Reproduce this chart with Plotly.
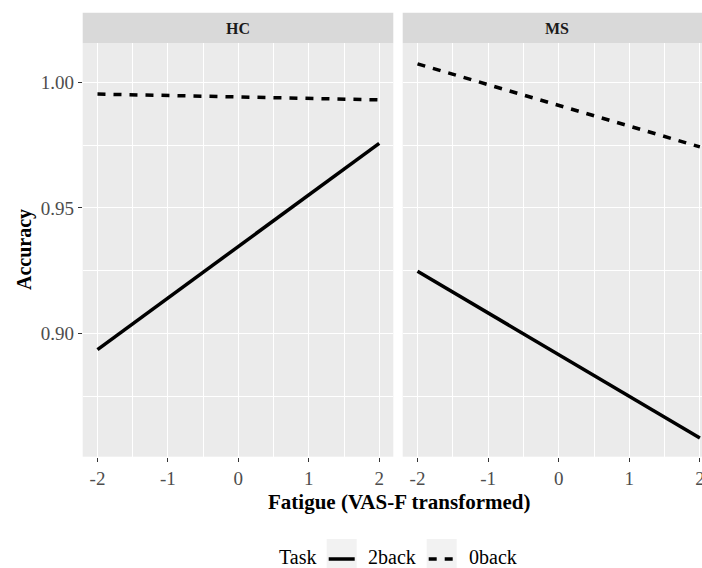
import plotly.graph_objects as go

# ---- data ----
fatigue = [-2, 2]
hc_2back = [0.8936, 0.9757]
hc_0back = [0.9953, 0.9930]
ms_2back = [0.9248, 0.8584]
ms_0back = [1.0073, 0.9743]
panels = ["HC", "MS"]
tasks = ["2back", "0back"]
x_ticks = [-2, -1, 0, 1, 2]
x_tick_labels = ["-2", "-1", "0", "1", "2"]
y_ticks = [0.90, 0.95, 1.00]
y_tick_labels = ["0.90", "0.95", "1.00"]

W, H = 702, 568


def px(x):
    return x / W


def py(y):
    return 1 - y / H


FONT = "Liberation Serif"
LW = 3.5
DASH = "8px,8px"
dash_of = {"2back": "solid", "0back": DASH}

fig = go.Figure()
series = {
    ("HC", "2back"): hc_2back,
    ("HC", "0back"): hc_0back,
    ("MS", "2back"): ms_2back,
    ("MS", "0back"): ms_0back,
}
for (panel, task), vals in series.items():
    ax = "" if panel == "HC" else "2"
    fig.add_trace(go.Scatter(
        x=fatigue, y=vals, mode="lines", name=task,
        line=dict(color="black", width=LW, dash=dash_of[task]),
        xaxis="x" + ax, yaxis="y" + ax, showlegend=False,
    ))

tickfont = dict(family=FONT, size=19, color="#4D4D4D")
common_x = dict(
    tickvals=x_ticks, ticktext=x_tick_labels, ticks="outside", ticklen=4,
    tickcolor="#333333", tickwidth=1, showgrid=True, gridcolor="white",
    gridwidth=1.4, zeroline=False, showline=False, tickfont=tickfont,
    automargin=False, fixedrange=True, ticklabeloverflow="allow",
    minor=dict(tickvals=[-1.5, -0.5, 0.5, 1.5], showgrid=True,
               gridcolor="white", gridwidth=0.6, ticks=""),
)
common_y = dict(
    range=[0.851, 1.0155], showgrid=True, gridcolor="white", gridwidth=1.4,
    zeroline=False, showline=False, automargin=False, fixedrange=True,
    tickvals=y_ticks, ticktext=y_tick_labels,
    minor=dict(tickvals=[0.875, 0.925, 0.975], showgrid=True,
               gridcolor="white", gridwidth=0.6, ticks=""),
)

fig.update_layout(
    template="none",
    width=W, height=H, autosize=False,
    margin=dict(l=0, r=0, t=0, b=0, pad=0),
    paper_bgcolor="white", plot_bgcolor="#EBEBEB",
    font=dict(family=FONT, color="black"),
    showlegend=False,
    xaxis=dict(domain=[px(82.7), px(393.3)], range=[-2.21, 2.2], anchor="y", **common_x),
    xaxis2=dict(domain=[px(402.7), 1.0], range=[-2.21, 2.03], anchor="y2", **common_x),
    yaxis=dict(domain=[py(456.7), py(43.3)], anchor="x", ticks="outside",
               ticklen=4, tickcolor="#333333", tickwidth=1, tickfont=tickfont,
               **common_y),
    yaxis2=dict(domain=[py(456.7), py(43.3)], anchor="x2", matches="y",
                showticklabels=False, ticks="", **common_y),
)

shapes = []
annotations = []
# facet strips
strip_spans = {"HC": (82.7, 393.3), "MS": (402.7, 711.7)}
for p in panels:
    a, b = strip_spans[p]
    shapes.append(dict(type="rect", xref="paper", yref="paper",
                       x0=px(a), x1=min(px(b), 1.02), y0=py(43.3), y1=py(12.7),
                       fillcolor="#D9D9D9", line=dict(width=0), layer="below"))
    annotations.append(dict(text="<b>%s</b>" % p, xref="paper", yref="paper",
                            x=px((a + b) / 2), y=py(29), showarrow=False,
                            xanchor="center", yanchor="middle",
                            font=dict(family=FONT, size=16, color="#1A1A1A")))

# axis titles
annotations.append(dict(text="<b>Accuracy</b>", xref="paper", yref="paper",
                        x=px(25), y=py(250), textangle=-90, showarrow=False,
                        xanchor="center", yanchor="middle",
                        font=dict(family=FONT, size=20, color="black")))
annotations.append(dict(text="<b>Fatigue (VAS-F transformed)</b>", xref="paper",
                        yref="paper", x=px(398.5), y=py(502), showarrow=False,
                        xanchor="center", yanchor="middle",
                        font=dict(family=FONT, size=21, color="black")))

# legend (drawn manually to mimic ggplot keys)
LEG_Y = 557
annotations.append(dict(text="Task", xref="paper", yref="paper", x=px(297),
                        y=py(LEG_Y), showarrow=False, xanchor="center",
                        yanchor="middle", font=dict(family=FONT, size=20, color="black")))
key_x = {"2back": 326.7, "0back": 426.7}
label_x = {"2back": 391.7, "0back": 492.5}
for t in tasks:
    k = key_x[t]
    shapes.append(dict(type="rect", xref="paper", yref="paper",
                       x0=px(k), x1=px(k + 30), y0=py(539), y1=py(575),
                       fillcolor="#F2F2F2", line=dict(width=0)))
    shapes.append(dict(type="line", xref="paper", yref="paper",
                       x0=px(k + 2), x1=px(k + 28), y0=py(LEG_Y + 2), y1=py(LEG_Y + 2),
                       line=dict(color="black", width=LW, dash=dash_of[t])))
    annotations.append(dict(text=t, xref="paper", yref="paper", x=px(label_x[t]),
                            y=py(LEG_Y), showarrow=False, xanchor="center",
                            yanchor="middle", font=dict(family=FONT, size=20, color="black")))

fig.update_layout(shapes=shapes, annotations=annotations)
fig.write_html(
    "out.html",
    config={"displayModeBar": False},
    post_script="document.body.style.margin='0';document.body.style.overflow='hidden';",
)
